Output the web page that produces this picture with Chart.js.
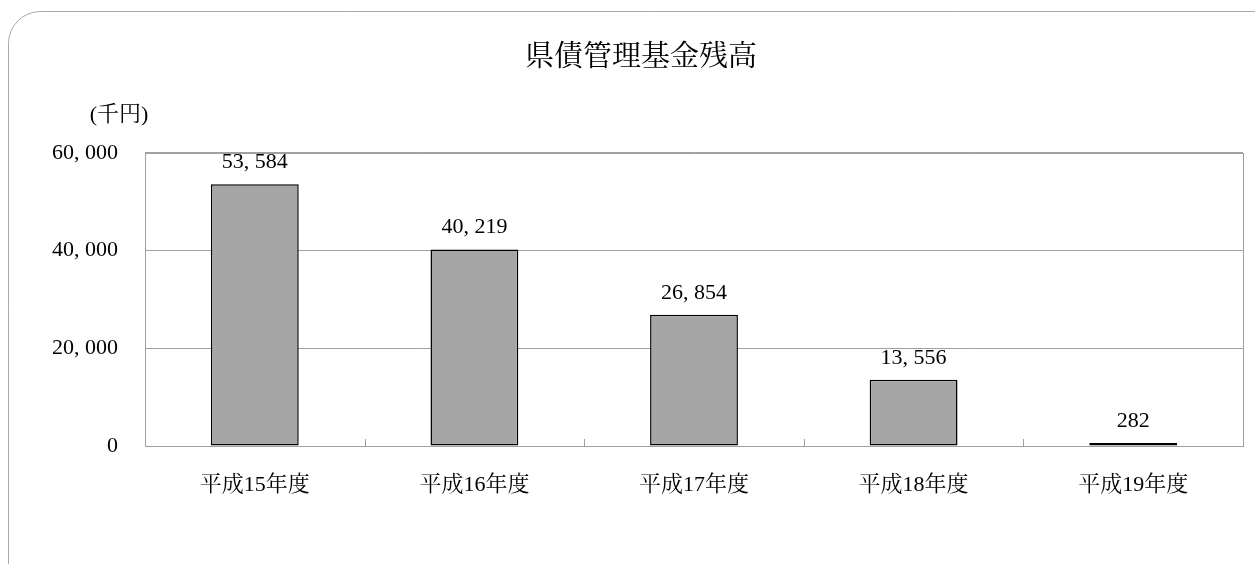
<!DOCTYPE html>
<html>
<head>
<meta charset="utf-8">
<script src="https://cdn.jsdelivr.net/npm/chart.js@4.4.1/dist/chart.umd.min.js"></script>
<style>
  html, body { margin: 0; padding: 0; background: #fff; }
  #wrap { width: 1255px; height: 564px; position: relative; }
</style>
</head>
<body>
<div id="wrap"><canvas id="bar"></canvas></div>
<script>
// data
var years = ["平成15年度", "平成16年度", "平成17年度", "平成18年度", "平成19年度"];
var balances = [53584, 40219, 26854, 13556, 282];
var yTicks = [0, 20000, 40000, 60000];
var chartTitle = "県債管理基金残高";
var unitLabel = "(千円)";

var FONT = "'Liberation Serif', 'Noto Serif CJK JP', 'Noto Sans CJK JP', serif";
var GRID = "#a0a0a0";

// 53584 -> "53, 584" like the original sheet
function fmt(v) {
    return Number(v).toLocaleString("en-US").replace(/,/g, ", ");
}

// frame, plot border, category ticks, unit text and value labels
var decor = {
    id: "decor",
    beforeDraw: function(chart) {
        var ctx = chart.ctx;
        ctx.save();
        ctx.strokeStyle = "#a8a8a8";
        ctx.lineWidth = 1;
        ctx.beginPath();
        ctx.roundRect(8.5, 11.5, 1300, 620, 32);
        ctx.stroke();
        ctx.restore();
    },
    beforeDatasetsDraw: function(chart) {
        var ctx = chart.ctx, a = chart.chartArea;
        var xs = chart.scales.x;
        ctx.save();
        // plot area border
        ctx.strokeStyle = GRID;
        ctx.lineWidth = 1;
        ctx.strokeRect(Math.round(a.left) + 0.5, Math.round(a.top) + 0.5,
            Math.round(a.right - a.left), Math.round(a.bottom - a.top));
        // small ticks between categories
        ctx.beginPath();
        for (var i = 1; i < years.length; i++) {
            var px = Math.round((xs.getPixelForValue(i - 1) + xs.getPixelForValue(i)) / 2) + 0.5;
            ctx.moveTo(px, a.bottom);
            ctx.lineTo(px, a.bottom - 7);
        }
        ctx.stroke();
        ctx.restore();
    },
    afterDraw: function(chart) {
        var ctx = chart.ctx, a = chart.chartArea;
        ctx.save();
        ctx.fillStyle = "#000";
        ctx.font = "22px " + FONT;
        ctx.textAlign = "center";
        ctx.textBaseline = "middle";
        // unit
        ctx.fillText(unitLabel, a.left - 26, a.top - 38);

        // value labels
        var meta = chart.getDatasetMeta(0);
        meta.data.forEach(function(bar, i) {
            ctx.fillText(fmt(balances[i]), bar.x, bar.y - 22);
        });
        ctx.restore();
    }
};

new Chart(document.getElementById("bar").getContext("2d"), {
    type: "bar",
    data: {
        labels: years,
        datasets: [{
            data: balances,
            backgroundColor: "#a6a6a6",
            borderColor: "#000",
            borderWidth: 1.5,
            borderSkipped: false,
            minBarLength: 3,
            barPercentage: 0.4,
            categoryPercentage: 1.0
        }]
    },
    options: {
        responsive: true,
        maintainAspectRatio: false,
        animation: false,
        layout: { padding: { left: 39, right: 12, top: 0, bottom: 0 } },
        plugins: {
            legend: { display: false },
            tooltip: { enabled: false },
            title: {
                display: true,
                text: chartTitle,
                color: "#000",
                font: { family: FONT, size: 29, weight: "normal" },
                padding: { top: 41, bottom: 77 }
            }
        },
        scales: {
            x: {
                afterFit: function(axis) { axis.height = 118; },
                grid: { display: false },
                border: { display: true, color: GRID },
                ticks: {
                    color: "#000",
                    padding: 18,
                    font: { family: FONT, size: 22 }
                }
            },
            y: {
                min: 0,
                max: 60000,
                afterBuildTicks: function(axis) {
                    axis.ticks = yTicks.map(function(v) { return { value: v }; });
                },
                afterFit: function(axis) { axis.width = 106; },
                grid: { color: GRID, drawTicks: false },
                border: { display: true, color: GRID },
                ticks: {
                    color: "#000",
                    padding: 27,
                    font: { family: FONT, size: 22 },
                    callback: function(v) { return fmt(v); }
                }
            }
        }
    },
    plugins: [decor]
});
</script>
</body>
</html>
